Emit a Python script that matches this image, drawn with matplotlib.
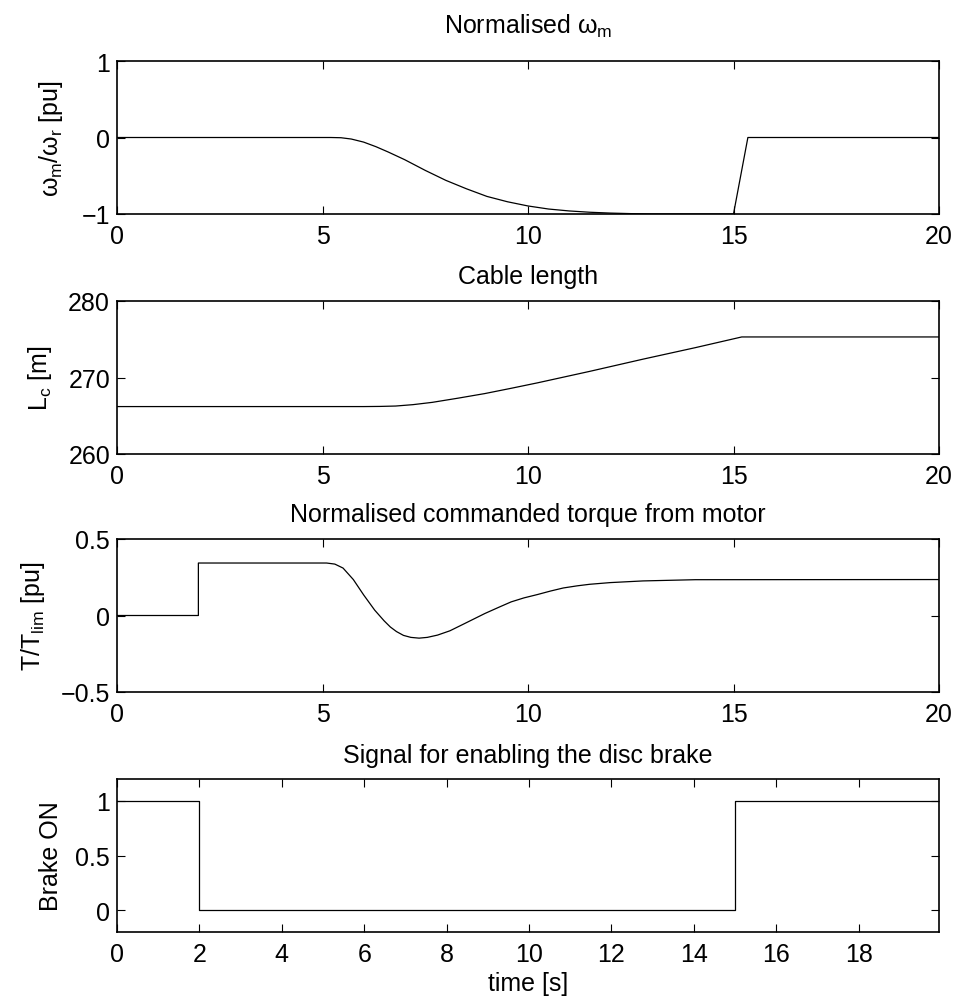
import numpy as np
import matplotlib
matplotlib.use('Agg')
import matplotlib.pyplot as plt

# Data
t_w = [0, 5.2, 5.45, 5.7, 6.0, 6.3, 6.6, 7.0, 7.5, 8.0, 8.5, 9.0, 9.5, 10, 10.5, 11, 11.5, 12, 12.5, 13, 14, 15.0, 15.35, 20]
w = [0, 0, -0.003, -0.02, -0.06, -0.12, -0.19, -0.29, -0.43, -0.56, -0.67, -0.77, -0.84, -0.895, -0.935, -0.96, -0.977, -0.988, -0.995, -0.999, -1.0, -1.0, 0, 0]

t_L = [0, 6.0, 6.4, 6.78, 7.2, 7.67, 8.3, 8.95, 9.6, 10.23, 11.5, 12.8, 14.07, 15.2, 20]
L = [266.2, 266.2, 266.22, 266.27, 266.45, 266.75, 267.3, 267.9, 268.6, 269.3, 270.8, 272.4, 273.9, 275.3, 275.3]

t_T = [0, 1.98, 1.98, 5.1, 5.3, 5.5, 5.75, 6.0, 6.27, 6.5, 6.65, 6.8, 6.97, 7.15, 7.35, 7.55, 7.8, 8.1, 8.44,
       8.95, 9.3, 9.59, 9.9, 10.23, 10.55, 10.86, 11.2, 11.5, 12.0, 12.8, 14.07, 20]
T = [0, 0, 0.343, 0.343, 0.336, 0.31, 0.235, 0.135, 0.035, -0.035, -0.075, -0.105, -0.13, -0.143, -0.148, -0.143, -0.128, -0.1, -0.055,
     0.013, 0.055, 0.089, 0.115, 0.137, 0.16, 0.18, 0.194, 0.204, 0.215, 0.226, 0.234, 0.235]

t_B = [0, 2, 2, 15, 15, 19.95]
B = [1, 1, 0, 0, 1, 1]

plt.rcParams['font.family'] = 'Liberation Sans'
plt.rcParams['mathtext.fontset'] = 'custom'
plt.rcParams['mathtext.rm'] = 'Liberation Sans'
plt.rcParams['mathtext.it'] = 'Liberation Sans'
plt.rcParams['font.size'] = 18

fig = plt.figure(figsize=(9.57, 10.03), dpi=100)
left = 117/957.
width = 822/957.
height = 153/1003.
bottoms = [1-215/1003., 1-455/1003., 1-693/1003., 1-933/1003.]
ax = [fig.add_axes([left, b, width, height]) for b in bottoms]

def style(a):
    a.tick_params(direction='in', top=True, right=True, length=6, width=0.8, labelsize=18)
    a.tick_params(axis='x', pad=7)
    a.tick_params(axis='y', pad=5)
    for s in a.spines.values():
        s.set_linewidth(1.2)

ax[0].plot(t_w, w, color='k', lw=0.9)
ax[0].set_xlim(0, 20)
ax[0].set_ylim(-1, 1)
ax[0].set_xticks([0, 5, 10, 15, 20])
ax[0].set_yticks([-1, 0, 1])
ax[0].set_title(r'Normalised $\omega_{\mathrm{m}}$', fontsize=18, pad=20)
ax[0].set_ylabel(r'$\omega_{\mathrm{m}}/\omega_{\mathrm{r}}$ [pu]', labelpad=12)

ax[1].plot(t_L, L, color='k', lw=0.9)
ax[1].set_xlim(0, 20)
ax[1].set_ylim(260, 280)
ax[1].set_xticks([0, 5, 10, 15, 20])
ax[1].set_yticks([260, 270, 280])
ax[1].set_title('Cable length', fontsize=18, pad=13)
ax[1].set_ylabel(r'L$_{\mathrm{c}}$ [m]', labelpad=10)

ax[2].plot(t_T, T, color='k', lw=0.9)
ax[2].set_xlim(0, 20)
ax[2].set_ylim(-0.5, 0.5)
ax[2].set_xticks([0, 5, 10, 15, 20])
ax[2].set_yticks([-0.5, 0, 0.5])
ax[2].set_yticklabels(['\u22120.5', '0', '0.5'])
ax[2].set_title('Normalised commanded torque from motor', fontsize=18, pad=13)
ax[2].set_ylabel(r'T/T$_{\mathrm{lim}}$ [pu]', labelpad=10)

ax[3].plot(t_B, B, color='k', lw=0.9)
ax[3].set_xlim(0, 19.95)
ax[3].set_ylim(-0.2, 1.2)
ax[3].set_xticks(np.arange(0, 20, 2))
ax[3].set_yticks([0, 0.5, 1])
ax[3].set_yticklabels(['0', '0.5', '1'])
ax[3].set_title('Signal for enabling the disc brake', fontsize=18, pad=12)
ax[3].set_ylabel('Brake ON', labelpad=9)
ax[3].set_xlabel('time [s]', labelpad=4)

for a in ax:
    style(a)

fig.savefig('out.png', dpi=100)
